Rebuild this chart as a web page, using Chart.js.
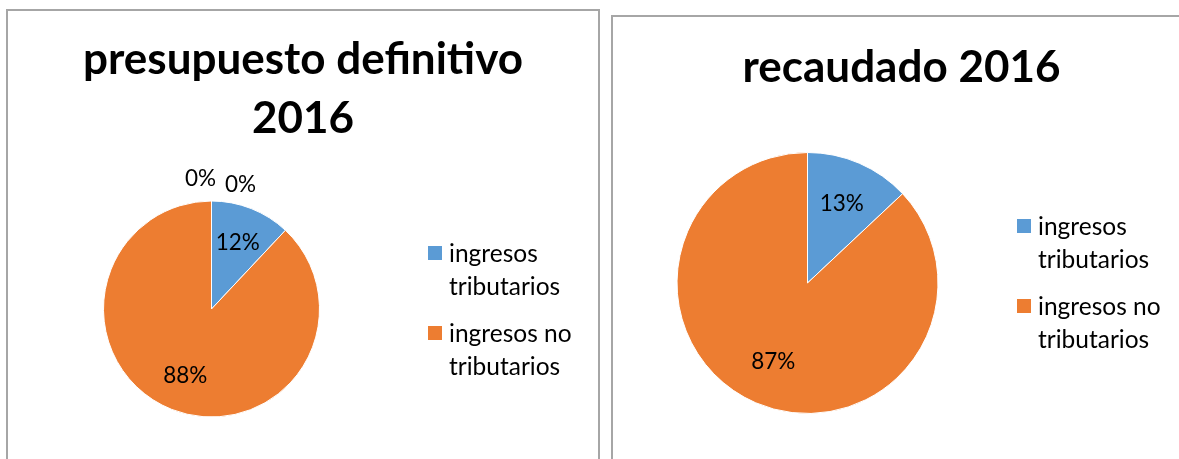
<!DOCTYPE html>
<html>
<head>
<meta charset="utf-8">
<script src="https://cdn.jsdelivr.net/npm/chart.js@4/dist/chart.umd.min.js"></script>
<style>
    body { margin: 0; width: 1179px; height: 459px; overflow: hidden; background: #fff; font-family: Lato, sans-serif; }
    .marco { position: absolute; border: 2px solid #a6a6a6; background: #fff; }
    .marco canvas { position: absolute; left: 0; top: 0; }
    .titulo { position: absolute; left: 0; width: 100%; text-align: center; font: bold 44px/59px Lato, sans-serif; color: #000; }
    .leyenda { position: absolute; font: 24.5px/33px Lato, sans-serif; color: #000; }
    .item { display: flex; margin-bottom: 14px; }
    .cuadro { width: 14px; height: 14px; margin-top: 10px; margin-right: 7px; flex: none; }
    .texto { width: 132px; }
</style>
</head>
<body>

<div class="marco" id="marco1" style="left:6px; top:9px; width:590px; height:460px;">
    <canvas id="grafico1" width="590" height="448"></canvas>
    <div class="titulo" style="top:17px;">presupuesto definitivo<br>2016</div>
    <div class="leyenda" id="leyenda1" style="left:420px; top:225px;"></div>
</div>

<div class="marco" id="marco2" style="left:611px; top:15px; width:590px; height:460px;">
    <canvas id="grafico2" width="577" height="442"></canvas>
    <div class="titulo" style="top:19px; width:577px;">recaudado 2016</div>
    <div class="leyenda" id="leyenda2" style="left:404px; top:192px;"></div>
</div>

<script>
// datos
var categorias1 = ['ingresos tributarios', 'ingresos no tributarios', '', ''];
var valores1 = [12, 88, 0, 0];

var categorias2 = ['ingresos tributarios', 'ingresos no tributarios'];
var valores2 = [13, 87];

var colores = ['#5B9BD5', '#ED7D31', '#A5A5A5', '#FFC000'];

// etiquetas de porcentaje sobre cada sector
var etiquetasPlugin = {
    id: 'etiquetas',
    afterDatasetsDraw: function (chart) {
        var ctx = chart.ctx;
        var meta = chart.getDatasetMeta(0);
        var valores = chart.data.datasets[0].data;
        var total = valores.reduce(function (a, b) { return a + b; }, 0);
        var nCeros = valores.filter(function (v) { return v === 0; }).length;
        var k = 0;
        ctx.save();
        ctx.font = '22.5px Lato, sans-serif';
        ctx.fillStyle = '#000';
        ctx.textAlign = 'center';
        ctx.textBaseline = 'middle';
        for (var i = 0; i < meta.data.length; i++) {
            var p = meta.data[i].getProps(['x', 'y', 'startAngle', 'endAngle', 'outerRadius'], true);
            var texto = Math.round(valores[i] / total * 100) + '%';
            var x, y;
            if (valores[i] > 0) {
                var medio = (p.startAngle + p.endAngle) / 2;
                var r = p.outerRadius * 0.66;
                x = p.x + Math.cos(medio) * r;
                y = p.y + Math.sin(medio) * r;
            } else {
                // sectores vacios: fuera del circulo, arriba
                x = p.x + 9 + (k - (nCeros - 1) / 2) * 40;
                y = p.y - p.outerRadius - 22 + k * 6;
                k++;
            }
            ctx.fillText(texto, x, y);
        }
        ctx.restore();
    }
};

function crearLeyenda(id, categorias) {
    var cont = document.getElementById(id);
    for (var i = 0; i < categorias.length; i++) {
        if (categorias[i] === '') continue;
        var item = document.createElement('div');
        item.className = 'item';
        var cuadro = document.createElement('div');
        cuadro.className = 'cuadro';
        cuadro.style.background = colores[i];
        var texto = document.createElement('div');
        texto.className = 'texto';
        texto.textContent = categorias[i];
        item.appendChild(cuadro);
        item.appendChild(texto);
        cont.appendChild(item);
    }
}

function crearPastel(idCanvas, categorias, valores, padding) {
    var ctx = document.getElementById(idCanvas).getContext('2d');
    return new Chart(ctx, {
        type: 'pie',
        data: {
            labels: categorias,
            datasets: [{
                data: valores,
                backgroundColor: colores.slice(0, valores.length),
                borderColor: '#fff',
                borderWidth: 1,
                hoverOffset: 0
            }]
        },
        options: {
            responsive: false,
            animation: false,
            layout: { padding: padding },
            plugins: {
                legend: { display: false },
                tooltip: { enabled: false },
                title: { display: false }
            }
        },
        plugins: [etiquetasPlugin]
    });
}

crearPastel('grafico1', categorias1, valores1, { left: 95, right: 278, top: 189, bottom: 41 });
crearPastel('grafico2', categorias2, valores2, { left: 63, right: 251, top: 135, bottom: 45 });
crearLeyenda('leyenda1', categorias1);
crearLeyenda('leyenda2', categorias2);
</script>
</body>
</html>
